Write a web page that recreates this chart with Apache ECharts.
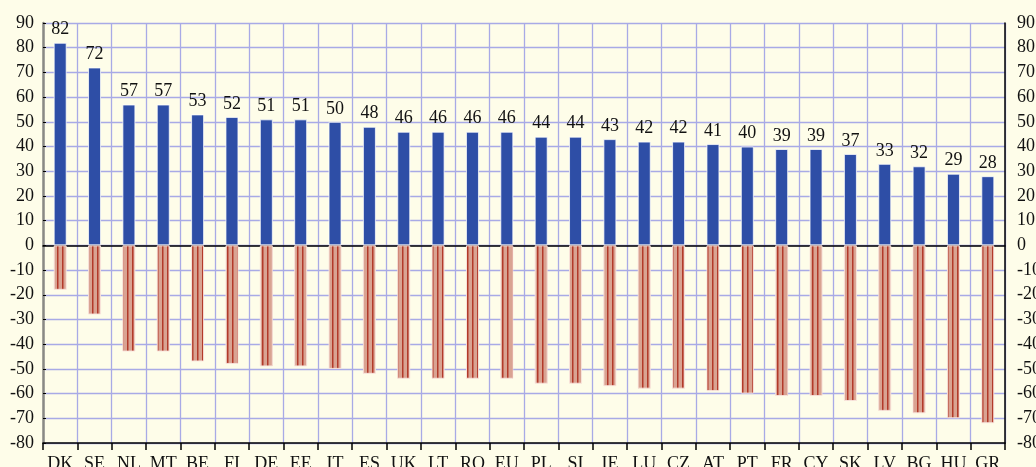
<!DOCTYPE html>
<html>
<head>
<meta charset="utf-8">
<style>
  html, body { margin: 0; padding: 0; background: #fefde9; }
  #chart { width: 1036px; height: 467px; }
</style>
<script src="https://cdn.jsdelivr.net/npm/echarts@6/dist/echarts.min.js"></script>
</head>
<body>
<div id="chart"></div>
<script>
// 国家代码
const countries = ['DK', 'SE', 'NL', 'MT', 'BE', 'FI', 'DE', 'EE', 'IT', 'ES', 'UK', 'LT', 'RO', 'EU',
  'PL', 'SI', 'IE', 'LU', 'CZ', 'AT', 'PT', 'FR', 'CY', 'SK', 'LV', 'BG', 'HU', 'GR']
// 正值（蓝色柱）
const positiveValues = [82, 72, 57, 57, 53, 52, 51, 51, 50, 48, 46, 46, 46, 46,
  44, 44, 43, 42, 42, 41, 40, 39, 39, 37, 33, 32, 29, 28]
// 负值（条纹柱）
const negativeValues = [-18, -28, -43, -43, -47, -48, -49, -49, -50, -52, -54, -54, -54, -54,
  -56, -56, -57, -58, -58, -59, -60, -61, -61, -63, -67, -68, -70, -72]
// y轴刻度
const yMin = -80
const yMax = 90
const yStep = 10

const serif = '"Liberation Serif", "DejaVu Serif", serif'

// 条纹填充
function stripePattern () {
  const c = document.createElement('canvas')
  c.width = 5
  c.height = 10
  const ctx = c.getContext('2d')
  ctx.fillStyle = '#d9a392'
  ctx.fillRect(0, 0, 5, 10)
  ctx.fillStyle = '#b33a29'
  ctx.fillRect(2, 0, 1, 10)
  ctx.fillStyle = 'rgba(179,58,41,0.5)'
  ctx.fillRect(3, 0, 1, 10)
  return c
}

const chart = echarts.init(document.getElementById('chart'))
const option = {
  backgroundColor: '#fefde9',
  animation: false,
  grid: { left: 43, right: 31, top: 23, bottom: 24, outerBoundsMode: 'none', containLabel: false },
  xAxis: [
    {
      type: 'category',
      data: countries,
      position: 'bottom',
      axisLine: { onZero: false, lineStyle: { color: '#000', width: 1.5 } },
      axisTick: { show: true, length: 7, lineStyle: { color: '#000', width: 1.5 } },
      axisLabel: { color: '#111', fontFamily: serif, fontSize: 18, margin: 12, interval: 0 },
      splitLine: { show: true, interval: 0, lineStyle: { color: '#a8aae6', width: 1.3 } }
    },
    {
      type: 'category',
      data: countries,
      position: 'bottom',
      axisLine: { onZero: true, lineStyle: { color: '#000', width: 1.5 } },
      axisTick: { show: false },
      axisLabel: { show: false },
      splitLine: { show: false }
    }
  ],
  yAxis: [
    {
      type: 'value',
      min: yMin,
      max: yMax,
      interval: yStep,
      position: 'left',
      axisLine: { show: true, lineStyle: { color: '#8a8a84', width: 2.5 } },
      axisTick: { show: true, inside: true, length: 3, lineStyle: { color: '#000' } },
      axisLabel: { color: '#111', fontFamily: serif, fontSize: 18, margin: 9 },
      splitLine: { show: true, lineStyle: { color: '#a8aae6', width: 1.3 } }
    },
    {
      type: 'value',
      min: yMin,
      max: yMax,
      interval: yStep,
      position: 'right',
      axisLine: { show: true, lineStyle: { color: '#000', width: 1.5 } },
      axisTick: { show: false },
      axisLabel: { color: '#111', fontFamily: serif, fontSize: 18, margin: 12 },
      splitLine: { show: false }
    }
  ],
  series: [
    {
      type: 'bar',
      data: positiveValues,
      barWidth: 13,
      barGap: '-100%',
      itemStyle: { color: '#2e4ea6', borderColor: 'rgba(255,255,255,0.75)', borderWidth: 1 },
      label: {
        show: true,
        position: 'top',
        distance: 4,
        color: '#111',
        fontFamily: serif,
        fontSize: 18
      }
    },
    {
      type: 'bar',
      data: negativeValues,
      barWidth: 13,
      barGap: '-100%',
      itemStyle: {
        color: { image: stripePattern(), repeat: 'repeat' },
        borderColor: 'rgba(250,228,222,0.9)',
        borderWidth: 1
      }
    }
  ]
}
chart.setOption(option)
</script>
</body>
</html>
